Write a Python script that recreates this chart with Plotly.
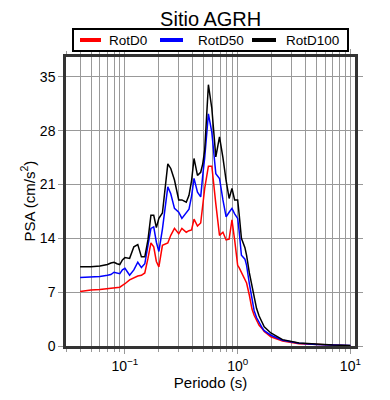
import plotly.graph_objects as go

periods = [0.04, 0.05, 0.06, 0.07, 0.075, 0.08, 0.085, 0.09, 0.095, 0.1,
           0.11, 0.12, 0.13, 0.14, 0.15, 0.16, 0.17, 0.18, 0.19, 0.2,
           0.215, 0.24, 0.255, 0.275, 0.3, 0.32, 0.35, 0.37, 0.39, 0.41,
           0.44, 0.47, 0.49, 0.51, 0.55, 0.59, 0.64, 0.69, 0.74, 0.76,
           0.79, 0.84, 0.89, 0.94, 1.0, 1.03, 1.08, 1.16, 1.2, 1.27,
           1.34, 1.4, 1.47, 1.55, 1.66, 1.72, 1.97, 2.5, 3.5, 5, 7, 10]

rotd100 = [10.3, 10.3, 10.4, 10.6, 10.8, 10.9, 10.7, 10.6, 11.2, 11.5,
           11.4, 12.9, 13.2, 11.6, 11.6, 13.8, 17.0, 17.0, 15.4, 16.6,
           17.3, 23.7, 23.1, 21.6, 19.0, 19.0, 18.7, 19.6, 21.5, 24.4,
           22.2, 22.6, 23.7, 25.5, 34.0, 30.9, 24.6, 27.2, 24.5, 22.9,
           21.5, 19.2, 20.5, 19.0, 19.0, 17.2, 14.0, 12.8, 11.8, 9.5,
           7.7, 6.5, 4.9, 3.9, 2.9, 2.5, 1.7, 0.83, 0.4, 0.22, 0.13, 0.05]

rotd50 = [8.9, 8.95, 9.05, 9.2, 9.3, 9.6, 9.5, 9.4, 9.9, 10.1,
          9.2, 9.9, 10.9, 10.2, 10.7, 13.3, 15.3, 15.5, 13.5, 12.3,
          15.2, 20.7, 19.8, 17.9, 17.4, 16.6, 17.4, 17.8, 19.5, 21.8,
          20.0, 19.4, 22.2, 24.5, 30.2, 27.8, 22.4, 21.8, 19.0, 18.2,
          16.8, 17.4, 17.9, 17.2, 16.6, 15.0, 11.8, 11.3, 10.5, 8.1,
          6.3, 4.6, 3.7, 3.0, 2.3, 2.0, 1.4, 0.74, 0.35, 0.2, 0.13, 0.05]

rotd0 = [7.1, 7.3, 7.35, 7.45, 7.5, 7.55, 7.6, 7.65, 7.9, 8.1,
         8.6, 8.9, 9.1, 9.2, 9.5, 11.4, 13.4, 12.9, 11.0, 10.3,
         13.1, 13.4, 14.4, 15.3, 14.6, 15.3, 14.8, 15.0, 15.1, 16.5,
         15.6, 16.0, 18.3, 20.5, 23.4, 23.4, 18.5, 14.4, 14.8, 14.3,
         13.8, 13.9, 16.4, 13.8, 10.5, 10.2, 9.6, 8.8, 8.2, 6.6,
         4.8, 4.0, 3.3, 2.7, 2.2, 1.9, 1.2, 0.65, 0.3, 0.18, 0.1, 0.04]

series_names = ["RotD0", "RotD50", "RotD100"]
series_colors = ["#ff0000", "#0000ff", "#000000"]
y_ticks = [0, 7, 14, 21, 28, 35]
x_tickvals = [0.1, 1, 10]
x_ticktext = ["10<sup>\u22121</sup>", "10<sup>0</sup>", "10<sup>1</sup>"]

font_family = "Liberation Sans, Arial, sans-serif"

fig = go.Figure()
for name, vals, col in zip(series_names, [rotd0, rotd50, rotd100], series_colors):
    fig.add_trace(go.Scatter(x=periods, y=vals, mode="lines", name=name,
                             line=dict(color=col, width=1.5), showlegend=False))

# manual legend in paper coordinates (plot area 289 x 289 px)
W, H = 289.0, 289.0
def px(v):
    return (v - 66.0) / W
def py(v):
    return (346.0 - v) / H

shapes = [dict(type="rect", xref="paper", yref="paper",
               x0=px(73), x1=px(348), y0=py(51), y1=py(29),
               line=dict(color="black", width=2), fillcolor="white", layer="above")]
annotations = []
leg_line_x = [(80, 101), (160, 183), (252, 276)]
leg_text_x = [107, 196, 284]
for name, col, (a, b), tx in zip(series_names, series_colors, leg_line_x, leg_text_x):
    shapes.append(dict(type="line", xref="paper", yref="paper",
                       x0=px(a), x1=px(b), y0=py(40), y1=py(40),
                       line=dict(color=col, width=4), layer="above"))
    annotations.append(dict(text=name, xref="paper", yref="paper",
                            x=px(tx), y=py(40.5), xanchor="left", yanchor="middle",
                            showarrow=False, font=dict(size=13.5, family=font_family, color="black")))

annotations.append(dict(text="PSA (cm/s<sup>2</sup>)", xref="paper", yref="paper",
                        x=px(28), y=0.5, xanchor="center", yanchor="middle", textangle=-90,
                        showarrow=False, font=dict(size=15, family=font_family, color="black")))

minor_vals = [m * 10 ** e for e in (-2, -1, 0, 1) for m in range(2, 10)]

# page body has an 8px offset: plot area in figure coords is x 58..347, y 49..338
fig.update_layout(
    width=390, height=400,
    margin=dict(l=58, r=43, t=49, b=62, autoexpand=False),
    paper_bgcolor="white", plot_bgcolor="white",
    font=dict(family=font_family, color="black", size=13),
    title=dict(text="Sitio AGRH", x=202.7 / 390, xanchor="center",
               y=1 - 10.5 / 400, yanchor="middle",
               font=dict(size=20, family=font_family, color="black")),
    showlegend=False,
    shapes=shapes,
    annotations=annotations,
    xaxis=dict(type="log", range=[-1.523, 1.041], automargin=False,
               tickvals=x_tickvals, ticktext=x_ticktext,
               ticks="outside", ticklen=5, tickcolor="#999999",
               showline=True, linecolor="#333333", linewidth=2.5, mirror="ticks",
               showgrid=True, gridcolor="#999999", gridwidth=1,
               zeroline=False,
               tickfont=dict(size=14, family=font_family),
               title=dict(text="Periodo (s)", font=dict(size=15, family=font_family), standoff=4),
               minor=dict(tickvals=minor_vals, ticks="outside", ticklen=3, tickcolor="#999999",
                          showgrid=True, gridcolor="#999999", gridwidth=1)),
    yaxis=dict(range=[0, 37.6], tickvals=y_ticks, automargin=False,
               ticks="outside", ticklen=5, tickcolor="#999999", ticklabelstandoff=0,
               showline=True, linecolor="#333333", linewidth=2.5, mirror="ticks",
               showgrid=True, gridcolor="#999999", gridwidth=1,
               zeroline=False,
               tickfont=dict(size=14, family=font_family)),
)

fig.write_html("out.html")
